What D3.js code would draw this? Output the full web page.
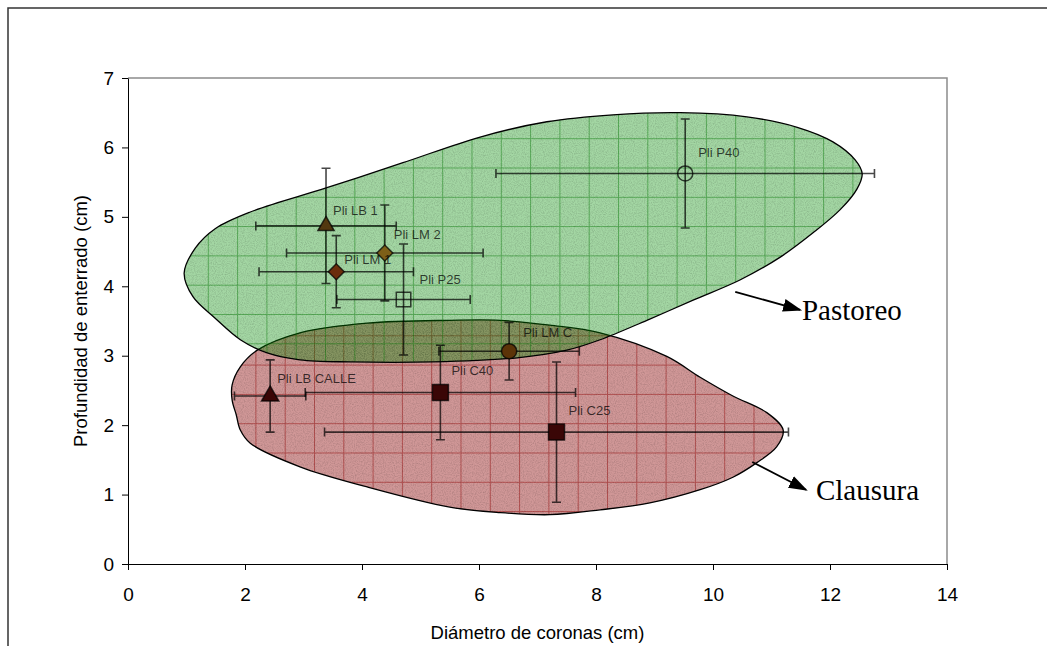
<!DOCTYPE html>
<html>
<head>
<meta charset="utf-8">
<script src="https://cdn.jsdelivr.net/npm/d3@7"></script>
<style>
  body { margin: 0; background: #fff; }
  svg { display: block; }
</style>
</head>
<body>
<div id="chart"></div>
<script>
// sites
const names = ["Pli LB 1", "Pli LM 2", "Pli LM 1", "Pli P25", "Pli P40", "Pli LM C", "Pli C40", "Pli LB CALLE", "Pli C25"];
const diametro = [3.385, 4.39, 3.56, 4.71, 9.525, 6.515, 5.34, 2.43, 7.325];
const diametroErr = [1.2, 1.68, 1.32, 1.14, 3.235, 1.2, 2.31, 0.61, 3.965];
const profundidad = [4.87, 4.48, 4.21, 3.81, 5.625, 3.065, 2.47, 2.42, 1.90];
const profundidadErr = [0.83, 0.69, 0.52, 0.80, 0.785, 0.415, 0.68, 0.52, 1.01];

// hand drawn envelopes
const pastoreoX = [0.96, 1.15, 1.49, 2.09, 3.40, 4.70, 6.02, 7.16, 8.29, 9.44, 10.58, 11.44, 12.05, 12.43, 12.55, 12.46, 12.17, 11.71, 11.15, 10.46, 9.66, 8.87, 8.07, 7.50, 6.65, 5.21, 3.80, 2.94, 2.38, 1.92, 1.49, 1.11];
const pastoreoY = [4.19, 4.55, 4.83, 5.07, 5.42, 5.78, 6.15, 6.37, 6.47, 6.50, 6.44, 6.29, 6.08, 5.82, 5.62, 5.40, 5.10, 4.77, 4.42, 4.09, 3.80, 3.51, 3.23, 3.08, 2.97, 2.91, 2.91, 2.94, 3.04, 3.23, 3.54, 3.85];
const clausuraX = [1.78, 1.92, 2.21, 2.94, 4.09, 5.50, 6.36, 7.21, 8.07, 9.21, 9.78, 10.34, 10.92, 11.20, 11.09, 10.75, 10.34, 9.78, 8.92, 8.07, 7.21, 6.36, 5.50, 4.09, 2.94, 2.09, 1.92, 1.85, 1.78];
const clausuraY = [2.58, 2.84, 3.08, 3.33, 3.47, 3.51, 3.51, 3.44, 3.33, 2.99, 2.69, 2.42, 2.18, 1.93, 1.69, 1.46, 1.25, 1.07, 0.88, 0.78, 0.71, 0.74, 0.82, 1.11, 1.40, 1.74, 1.93, 2.15, 2.36];

const xTicks = [0, 2, 4, 6, 8, 10, 12, 14];
const yTicks = [0, 1, 2, 3, 4, 5, 6, 7];

// marker look per site
const shapes = ["triangle", "diamond", "diamond", "square", "circle", "circle", "square", "triangle", "square"];
const fills = ["#52380f", "#7d5f18", "#6b2d0c", "none", "none", "#5c3308", "#3a0606", "#3a0606", "#3a0606"];
const sizes = [115, 128, 128, 210, 180, 180, 256, 130, 256];
// label nudges in px (dx, dy)
const nudge = [[7, -11], [9, -14], [8, -8], [16, -15], [13, -16], [14, -14], [11, -18], [7, -13], [12, -17]];

const width = 1047;
const height = 646;
const sans = "'Liberation Sans', Arial, sans-serif";
const serif = "'Liberation Serif', 'Times New Roman', serif";

const x = d3.scaleLinear().domain([0, 14]).range([128, 947]);
const y = d3.scaleLinear().domain([0, 7]).range([564, 78]);

const svg = d3.select("#chart")
  .append("svg")
    .attr("width", width)
    .attr("height", height);

const defs = svg.append("defs");

function gridPattern(id, fill, line, ox, oy) {
  const s = 29.3;
  const p = defs.append("pattern")
      .attr("id", id)
      .attr("patternUnits", "userSpaceOnUse")
      .attr("x", ox).attr("y", oy)
      .attr("width", s).attr("height", s);
  p.append("rect").attr("width", s).attr("height", s).attr("fill", fill);
  p.append("path")
      .attr("d", `M0.5,0V${s}M0,0.5H${s}`)
      .attr("stroke", line)
      .attr("stroke-width", 1)
      .attr("fill", "none");
}
gridPattern("gridRed", "rgba(145,15,15,0.43)", "rgba(150,10,10,0.5)", 21, 13);
gridPattern("gridGreen", "rgba(0,140,0,0.36)", "rgba(0,120,0,0.45)", 2.7, 21);

// speckle texture
const noise = defs.append("filter")
    .attr("id", "noise")
    .attr("x", 0).attr("y", 0).attr("width", "100%").attr("height", "100%");
noise.append("feTurbulence")
    .attr("type", "fractalNoise")
    .attr("baseFrequency", 0.9)
    .attr("numOctaves", 2)
    .attr("seed", 3);
noise.append("feColorMatrix")
    .attr("values", "0 0 0 0 0  0 0 0 0 0  0 0 0 0 0  1.6 0 0 0 -0.62");

defs.append("marker")
    .attr("id", "arrow")
    .attr("markerUnits", "userSpaceOnUse")
    .attr("viewBox", "0 0 19 13")
    .attr("refX", 17).attr("refY", 6.5)
    .attr("markerWidth", 19).attr("markerHeight", 13)
    .attr("orient", "auto")
  .append("path")
    .attr("d", "M0,0L19,6.5L0,13Z")
    .attr("fill", "#000");

// outer frame
svg.append("path")
    .attr("d", `M8,${height}V8H${width}`)
    .attr("fill", "none")
    .attr("stroke", "#333")
    .attr("stroke-width", 1.5);

// plot frame top/right
svg.append("path")
    .attr("d", `M${x(0)},${y(7)}H${x(14)}V${y(0)}`)
    .attr("fill", "none")
    .attr("stroke", "#8c8c8c")
    .attr("stroke-width", 1.5);

// envelopes
const blob = d3.line()
    .x(d => x(d[0]))
    .y(d => y(d[1]))
    .curve(d3.curveCatmullRomClosed.alpha(0.5));

const envelopes = [
  { id: "clipC", d: blob(d3.zip(clausuraX, clausuraY)), fill: "url(#gridRed)" },
  { id: "clipP", d: blob(d3.zip(pastoreoX, pastoreoY)), fill: "url(#gridGreen)" }
];

envelopes.forEach(e => {
  defs.append("clipPath").attr("id", e.id).append("path").attr("d", e.d);
  svg.append("path")
      .attr("d", e.d)
      .attr("fill", e.fill)
      .attr("stroke", "none");
  svg.append("rect")
      .attr("x", x(0)).attr("y", y(7))
      .attr("width", x(14) - x(0)).attr("height", y(0) - y(7))
      .attr("clip-path", `url(#${e.id})`)
      .attr("filter", "url(#noise)")
      .attr("opacity", 0.18);
  svg.append("path")
      .attr("d", e.d)
      .attr("fill", "none")
      .attr("stroke", "#000")
      .attr("stroke-width", 1.3);
});

// x axis
svg.append("g")
    .attr("transform", `translate(0,${y(0)})`)
    .call(d3.axisBottom(x).tickValues(xTicks).tickFormat(d3.format("d")).tickSize(6).tickSizeOuter(0).tickPadding(17.5))
    .call(g => g.selectAll("text").attr("font-size", 19).attr("font-family", sans).attr("fill", "#000"));

// y axis
svg.append("g")
    .attr("transform", `translate(${x(0)},0)`)
    .call(d3.axisLeft(y).tickValues(yTicks).tickFormat(d3.format("d")).tickSize(6).tickSizeOuter(0).tickPadding(8))
    .call(g => g.selectAll("text").attr("font-size", 19).attr("font-family", sans).attr("fill", "#000"));

svg.selectAll(".domain, .tick line").attr("stroke", "#000");

// axis titles
svg.append("text")
    .attr("x", (x(0) + x(14)) / 2)
    .attr("y", 639)
    .attr("text-anchor", "middle")
    .attr("font-family", sans)
    .attr("font-size", 18.5)
    .text("Diámetro de coronas (cm)");

svg.append("text")
    .attr("transform", `translate(87,${(y(0) + y(7)) / 2}) rotate(-90)`)
    .attr("text-anchor", "middle")
    .attr("font-family", sans)
    .attr("font-size", 18.5)
    .text("Profundidad de enterrado (cm)");

// error bars
const idx = d3.range(names.length);
const cap = 4.5;
const bars = svg.append("g")
    .attr("stroke", "rgba(0,0,0,0.72)")
    .attr("stroke-width", 1.6)
    .attr("fill", "none");

bars.selectAll("path.h")
  .data(idx)
  .join("path")
    .attr("class", "h")
    .attr("d", i => {
      const x0 = x(diametro[i] - diametroErr[i]), x1 = x(diametro[i] + diametroErr[i]), yy = y(profundidad[i]);
      return `M${x0},${yy}H${x1}M${x0},${yy - cap}V${yy + cap}M${x1},${yy - cap}V${yy + cap}`;
    });

bars.selectAll("path.v")
  .data(idx)
  .join("path")
    .attr("class", "v")
    .attr("d", i => {
      const y0 = y(profundidad[i] - profundidadErr[i]), y1 = y(profundidad[i] + profundidadErr[i]), xx = x(diametro[i]);
      return `M${xx},${y0}V${y1}M${xx - cap},${y0}H${xx + cap}M${xx - cap},${y1}H${xx + cap}`;
    });

// markers
const symbolOf = {
  triangle: d3.symbolTriangle,
  diamond: d3.symbolSquare,
  square: d3.symbolSquare,
  circle: d3.symbolCircle
};

svg.append("g")
  .selectAll("path")
  .data(idx)
  .join("path")
    .attr("transform", i => `translate(${x(diametro[i])},${y(profundidad[i])})` + (shapes[i] === "diamond" ? " rotate(45)" : ""))
    .attr("d", i => d3.symbol(symbolOf[shapes[i]], sizes[i])())
    .attr("fill", i => fills[i])
    .attr("stroke", "rgba(0,0,0,0.72)")
    .attr("stroke-width", 1.5);

// labels
svg.append("g")
  .selectAll("text")
  .data(idx)
  .join("text")
    .attr("x", i => x(diametro[i]) + nudge[i][0])
    .attr("y", i => y(profundidad[i]) + nudge[i][1])
    .attr("font-family", sans)
    .attr("font-size", 13)
    .attr("fill", "rgba(0,0,0,0.72)")
    .text(i => names[i]);

// annotations
const notes = [
  { text: "Pastoreo", from: [10.38, 3.92], to: [11.49, 3.66], at: [11.52, 3.51] },
  { text: "Clausura", from: [10.67, 1.47], to: [11.59, 1.07], at: [11.76, 0.92] }
];

svg.append("g")
  .selectAll("line")
  .data(notes)
  .join("line")
    .attr("x1", d => x(d.from[0])).attr("y1", d => y(d.from[1]))
    .attr("x2", d => x(d.to[0])).attr("y2", d => y(d.to[1]))
    .attr("stroke", "#000")
    .attr("stroke-width", 1.8)
    .attr("marker-end", "url(#arrow)");

svg.append("g")
  .selectAll("text")
  .data(notes)
  .join("text")
    .attr("x", d => x(d.at[0]))
    .attr("y", d => y(d.at[1]))
    .attr("font-family", serif)
    .attr("font-size", 29)
    .attr("fill", "#000")
    .text(d => d.text);
</script>
</body>
</html>
